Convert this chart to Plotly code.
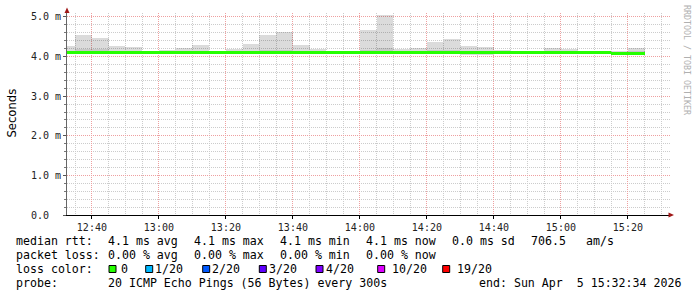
import plotly.graph_objects as go
import pandas as pd

# ---------------- data (5-minute intervals, values in ms) ----------------
interval_start = pd.date_range("2026-04-05 12:30", periods=35, freq="5min")
rtt_max = [4.27, 4.55, 4.46, 4.27, 4.23, 4.13, 4.16, 4.21, 4.28, 4.14,
           4.19, 4.32, 4.55, 4.62, 4.29, 4.19, 4.14, 4.13, 4.67, 5.05,
           4.19, 4.22, 4.38, 4.44, 4.27, 4.24, 4.17, 4.15, 4.14, 4.22,
           4.19, 4.15, 4.14, 4.13, 4.22]
rtt_min = [4.08, 4.07, 4.07, 4.07, 4.07, 4.08, 4.08, 4.08, 4.08, 4.08,
           4.08, 4.08, 4.08, 4.08, 4.08, 4.08, 4.08, 4.08, 4.08, 4.08,
           4.08, 4.08, 4.08, 4.08, 4.05, 4.05, 4.06, 4.06, 4.07, 4.07,
           4.07, 4.08, 4.08, 4.07, 4.07]
rtt_band = [4.14, 4.20, 4.18, 4.15, 4.14, 4.12, 4.13, 4.14, 4.14, 4.12,
            4.13, 4.14, 4.16, 4.16, 4.14, 4.13, 4.12, 4.12, 4.17, 4.21,
            4.13, 4.13, 4.16, 4.16, 4.14, 4.13, 4.12, 4.12, 4.12, 4.13,
            4.13, 4.12, 4.12, 4.12, 4.13]
rtt_median = [4.10, 4.10, 4.10, 4.10, 4.10, 4.10, 4.11, 4.11, 4.11, 4.11,
              4.11, 4.10, 4.10, 4.10, 4.10, 4.10, 4.10, 4.10, 4.10, 4.10,
              4.10, 4.10, 4.10, 4.10, 4.10, 4.10, 4.10, 4.10, 4.10, 4.10,
              4.10, 4.10, 4.10, 4.085, 4.085]

y_tick_vals = [0, 1, 2, 3, 4, 5]
y_tick_text = ["0.0\u00a0\u00a0", "1.0 m", "2.0 m", "3.0 m", "4.0 m", "5.0 m"]

loss_labels = ["0", "1/20", "2/20", "3/20", "4/20", "10/20", "19/20"]
loss_colors = ["#26ff00", "#00b8ff", "#0059ff", "#5e00ff", "#7e00ff", "#dd00ff", "#ff0000"]

rtt_stats = ["4.1 ms avg", "4.1 ms max", "4.1 ms min", "4.1 ms now", "0.0 ms sd", "706.5", "am/s"]
loss_stats = ["0.00 % avg", "0.00 % max", "0.00 % min", "0.00 % now"]
probe_text = "20 ICMP Echo Pings (56 Bytes) every 300s"
end_text = "end: Sun Apr\u00a0\u00a05 15:32:34 2026"

# ---------------- geometry helpers ----------------
W, H = 697, 297
L, R, T, B = 67, 670, 13, 215


def px(xp):
    return (xp - L) / (R - L)


def py(yp):
    return (B - yp) / (B - T)


centers = interval_start + pd.Timedelta(minutes=2.5)
width_ms = 5 * 60 * 1000

fig = go.Figure()
fig.add_trace(go.Bar(
    x=centers, base=rtt_min, y=[a - b for a, b in zip(rtt_max, rtt_min)],
    width=width_ms, marker=dict(color="rgba(0,0,0,0.14)", line=dict(width=0)),
    hoverinfo="skip", showlegend=False))
fig.add_trace(go.Bar(
    x=centers, base=rtt_median, y=[a - b for a, b in zip(rtt_band, rtt_median)],
    width=width_ms, marker=dict(color="rgba(0,0,0,0.09)", line=dict(width=0)),
    hoverinfo="skip", showlegend=False))
fig.add_trace(go.Bar(
    x=centers, base=[m - 0.037 for m in rtt_median], y=[0.074] * len(rtt_median),
    width=width_ms, marker=dict(color=loss_colors[0], line=dict(width=0)),
    hoverinfo="skip", showlegend=False))

mono = "DejaVu Sans Mono"
grid_minor = "#cccccc"
grid_major = "#eea0a0"

fig.update_layout(
    width=W, height=H,
    margin=dict(l=L, r=W - R, t=T, b=H - B, pad=0),
    paper_bgcolor="white", plot_bgcolor="white",
    barmode="overlay", bargap=0,
    showlegend=False,
    xaxis=dict(
        type="date",
        range=["2026-04-05 12:32:34", "2026-04-05 15:32:34"],
        tick0="2026-04-05 12:40", dtick=20 * 60 * 1000, tickformat="%H:%M",
        showgrid=True, gridcolor=grid_major, griddash="1px,1px", gridwidth=1,
        minor=dict(tick0="2026-04-05 12:40", dtick=width_ms, showgrid=True,
                   gridcolor=grid_minor, griddash="1px,1px", gridwidth=1),
        showline=True, linecolor="#000", linewidth=1,
        ticks="outside", ticklen=3, tickcolor="#000",
        tickfont=dict(family=mono, size=10, color="#222"),
        zeroline=False, fixedrange=True,
    ),
    yaxis=dict(
        range=[0, 5.1],
        tickmode="array", tickvals=y_tick_vals, ticktext=y_tick_text,
        showgrid=True, gridcolor=grid_major, griddash="1px,1px", gridwidth=1,
        minor=dict(dtick=0.2, tick0=0, showgrid=True, gridcolor=grid_minor,
                   griddash="1px,1px", gridwidth=1,
                   ticks="outside", ticklen=2, tickcolor="#777"),
        showline=True, linecolor="#666", linewidth=1,
        ticks="outside", ticklen=3, tickcolor="#555",
        tickfont=dict(family=mono, size=10, color="#222"),
        zeroline=False, fixedrange=True,
    ),
)

shapes = []
# axis arrows
arrow_col = "#a01818"
shapes.append(dict(type="path", xref="paper", yref="paper",
                   path=f"M {px(64.5)} {py(13)} L {px(69.5)} {py(13)} L {px(67)} {py(7.5)} Z",
                   fillcolor=arrow_col, line=dict(width=0)))
shapes.append(dict(type="path", xref="paper", yref="paper",
                   path=f"M {px(668.5)} {py(212.5)} L {px(668.5)} {py(217.5)} L {px(674)} {py(215)} Z",
                   fillcolor=arrow_col, line=dict(width=0)))

ann = []
fs = 11.6
tfont = dict(family=mono, size=fs, color="#000")


def txt(x, y, s):
    ann.append(dict(x=px(x), y=py(y), xref="paper", yref="paper", text=s,
                    showarrow=False, xanchor="left", yanchor="middle",
                    font=tfont, borderpad=0))


# line 1
txt(15.3, 241, "median rtt:")
for xx, s in zip([106.6, 192.6, 278.6, 365.3, 451.0, 530.3, 585.3], rtt_stats):
    txt(xx, 241, s)
# line 2
txt(15.3, 255, "packet loss:")
for xx, s in zip([106.6, 192.6, 278.6, 365.3], loss_stats):
    txt(xx, 255, s)
# line 3
txt(15.3, 269, "loss color:")
box_x = [109, 145.7, 202.7, 259.3, 316, 377.7, 442.7]
lab_x = [120.3, 154.3, 211.3, 268.0, 324.8, 391.0, 456.0]
for bx, lx, lab, col in zip(box_x, lab_x, loss_labels, loss_colors):
    shapes.append(dict(type="rect", xref="paper", yref="paper",
                       x0=px(bx), x1=px(bx + 7), y0=py(272.5), y1=py(265.5),
                       fillcolor=col, line=dict(color="#000", width=1)))
    txt(lx, 269, lab)
# line 4
txt(15.3, 283, "probe:")
txt(106.6, 283, probe_text)
txt(477.6, 283, end_text)

# y-axis title
ann.append(dict(x=px(11.5), y=py(113), xref="paper", yref="paper", text="Seconds",
                showarrow=False, xanchor="center", yanchor="middle", textangle=-90,
                font=dict(family="DejaVu Sans", size=11.6, color="#000"), borderpad=0))
# watermark
ann.append(dict(x=px(687), y=py(60), xref="paper", yref="paper", text="RRDTOOL / TOBI OETIKER",
                showarrow=False, xanchor="center", yanchor="middle", textangle=90,
                font=dict(family=mono, size=8.3, color="#b0b0b0"), borderpad=0))

fig.update_layout(shapes=shapes, annotations=ann)
fig.write_html("out.html")
